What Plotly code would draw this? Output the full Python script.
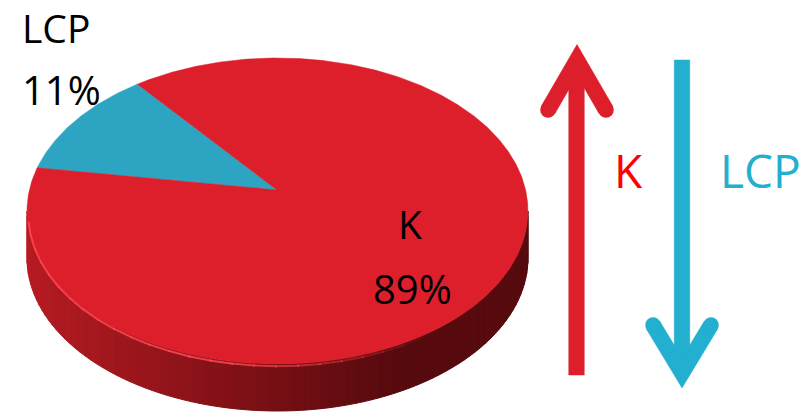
import numpy as np
import plotly.graph_objects as go

# Pie data
labels = ["LCP", "K"]
values = [11, 89]
slice_colors = ["#2DA4C2", "#DC1F2B"]

# Arrow legend
arrow_labels = ["K", "LCP"]
arrow_colors = ["#DC1F2B", "#22AFD0"]
arrow_text_colors = ["#FF0000", "#22AFD0"]

# Geometry of the tilted pie (pixel units)
CX, CY, RX, RY = 277.5, 211.0, 250.5, 153.0
APEX = (277.0, 190.0)
DEPTH = 47.0
START_ANGLE = 124.0
FONT = "Open Sans"


def ell(t_deg, dy=0.0, scale=1.0):
    t = np.radians(t_deg)
    return CX + scale * RX * np.cos(t), CY - scale * RY * np.sin(t) + dy


def side_color(x):
    f = float(np.clip((x - 30) / (400 - 30), 0, 1))
    a = np.array([182, 27, 34])
    b = np.array([86, 10, 14])
    c = (a + (b - a) * f).astype(int)
    return f"rgb({c[0]},{c[1]},{c[2]})"


fig = go.Figure()

# Side wall of the pie, shaded in vertical strips
ts = np.linspace(180, 360, 91)
for t0, t1 in zip(ts[:-1], ts[1:]):
    x0, y0 = ell(t0)
    x1, y1 = ell(t1)
    col = side_color((x0 + x1) / 2)
    fig.add_trace(go.Scatter(
        x=[x0, x1, x1, x0, x0], y=[y0, y1, y1 + DEPTH, y0 + DEPTH, y0],
        mode="lines", fill="toself", fillcolor=col,
        line=dict(color=col, width=1), hoverinfo="skip", showlegend=False))

# Top face slices
total = sum(values)
ang = START_ANGLE
for lab, v, col in zip(labels, values, slice_colors):
    span = v / total * 360.0
    tt = np.linspace(ang, ang + span, max(8, int(span * 2)))
    xs, ys = ell(tt)
    px = np.concatenate([[APEX[0]], xs, [APEX[0]]])
    py = np.concatenate([[APEX[1]], ys, [APEX[1]]])
    fig.add_trace(go.Scatter(
        x=px, y=py, mode="lines", fill="toself", fillcolor=col,
        line=dict(color=col, width=0.5), name=lab,
        hoverinfo="skip", showlegend=False))
    ang += span

# Bevel highlight along the front rim, fading out towards the right
seg = np.linspace(183, 305, 25)
for i, (t0, t1) in enumerate(zip(seg[:-1], seg[1:])):
    alpha = 0.85 * (1 - max(0, i - 14) / 10)
    tt = np.linspace(t0, t1 + 0.5, 6)
    hx, hy = ell(tt, dy=3, scale=0.995)
    fig.add_trace(go.Scatter(x=hx, y=hy, mode="lines",
                             line=dict(color=f"rgba(255,70,80,{alpha:.2f})", width=2),
                             hoverinfo="skip", showlegend=False))

# Value labels on the pie
label_xy = {"LCP": [(56, 27), (61, 89)], "K": [(410, 223), (412, 288)]}
for lab, v in zip(labels, values):
    (x1, y1), (x2, y2) = label_xy[lab]
    fig.add_annotation(x=x1, y=y1, text=lab, showarrow=False,
                       font=dict(family=FONT, size=39, color="black"),
                       xanchor="center", yanchor="middle")
    fig.add_annotation(x=x2, y=y2, text=f"{v}%", showarrow=False,
                       font=dict(family=FONT, size=40, color="black"),
                       xanchor="center", yanchor="middle")


def add_arrow(xc, y_tail, apex, ends, w, color):
    cx, cy = apex
    (lx, ly), (rx, ry) = ends
    # shaft
    fig.add_trace(go.Scatter(
        x=[xc - w / 2, xc + w / 2, xc + w / 2, xc - w / 2, xc - w / 2],
        y=[y_tail, y_tail, cy, cy, y_tail], mode="lines", fill="toself",
        fillcolor=color, line=dict(color=color, width=0.5),
        hoverinfo="skip", showlegend=False))
    # mitred chevron head
    d = np.array([lx - cx, ly - cy], float)
    u = d / np.linalg.norm(d)
    n_left = np.array([u[1], -u[0]])
    if n_left[0] > 0:
        n_left = -n_left
    n_right = np.array([-n_left[0], n_left[1]])
    miter = (w / 2) / abs(u[0])
    sgn = -1 if ly > cy else 1
    tip = (cx, cy + sgn * miter)
    notch = (cx, cy - sgn * miter)
    pts = [tip,
           (lx + n_left[0] * w / 2, ly + n_left[1] * w / 2),
           (lx - n_left[0] * w / 2, ly - n_left[1] * w / 2),
           notch,
           (rx - n_right[0] * w / 2, ry - n_right[1] * w / 2),
           (rx + n_right[0] * w / 2, ry + n_right[1] * w / 2),
           tip]
    fig.add_trace(go.Scatter(
        x=[p[0] for p in pts], y=[p[1] for p in pts], mode="lines",
        fill="toself", fillcolor=color, line=dict(color=color, width=0.5),
        hoverinfo="skip", showlegend=False))
    # rounded ends of the chevron
    fig.add_trace(go.Scatter(
        x=[lx, rx], y=[ly, ry], mode="markers",
        marker=dict(size=w, color=color, line=dict(width=0)),
        hoverinfo="skip", showlegend=False))


add_arrow(576.5, 375, (577, 60), [(548, 110), (606, 110)], 15.5, arrow_colors[0])
add_arrow(682, 60, (682, 373), [(653, 325), (711, 325)], 15.5, arrow_colors[1])

fig.add_annotation(x=628, y=170, text=arrow_labels[0], showarrow=False,
                   font=dict(family=FONT, size=46, color=arrow_text_colors[0]),
                   xanchor="center", yanchor="middle")
fig.add_annotation(x=760, y=170, text=arrow_labels[1], showarrow=False,
                   font=dict(family=FONT, size=46, color=arrow_text_colors[1]),
                   xanchor="center", yanchor="middle")

fig.update_layout(
    width=806, height=414,
    margin=dict(l=0, r=0, t=0, b=0),
    paper_bgcolor="white", plot_bgcolor="white",
    xaxis=dict(range=[0, 806], visible=False, fixedrange=True),
    yaxis=dict(range=[414, 0], visible=False, fixedrange=True),
    showlegend=False,
)

fig.write_html("out.html")
